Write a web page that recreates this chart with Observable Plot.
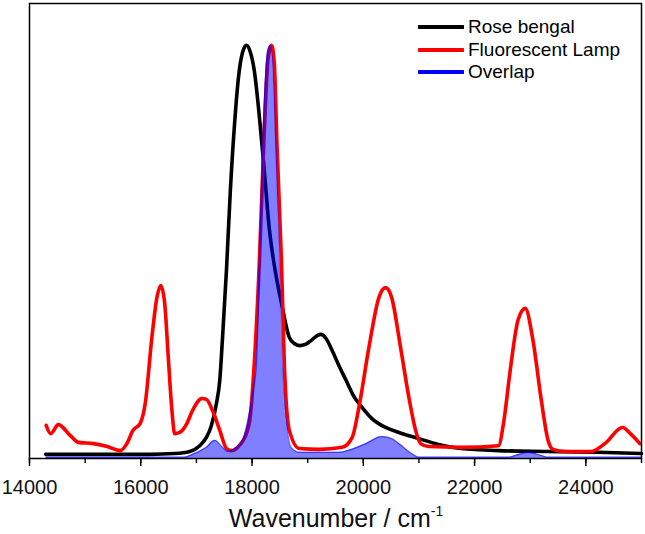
<!DOCTYPE html>
<html>
<head>
<meta charset="utf-8">
<script src="https://cdn.jsdelivr.net/npm/d3@7"></script>
<script src="https://cdn.jsdelivr.net/npm/@observablehq/plot@0.6"></script>
<style>
  html, body { margin: 0; padding: 0; background: #fff; }
  #wrap { position: relative; width: 645px; height: 534px; font-family: "Liberation Sans", Arial, sans-serif; }
  #legend { position: absolute; left: 418px; top: 16px; font-size: 19px; color: #000; }
  #legend .row { display: flex; align-items: center; height: 22.5px; }
  #legend svg { margin-right: 4px; }
  #xtitle { position: absolute; left: 0; width: 672px; top: 504px; text-align: center; font-size: 25px; color: #111; }
  #xtitle sup { font-size: 14px; vertical-align: 11px; line-height: 0; }
</style>
</head>
<body>
<div id="wrap">
  <div id="chart"></div>
  <div id="legend"></div>
  <div id="xtitle">Wavenumber / cm<sup>-1</sup></div>
</div>
<script>
// ---- Data (normalized intensity vs wavenumber, cm^-1) ----
const seriesNames = ["Rose bengal", "Fluorescent Lamp", "Overlap"];
const seriesColors = ["#000000", "#ff0000", "#0000ff"];

const wnRose = [14290,15270,16160,16610,16880,17060,17180,17270,17360,17420,17470,17540,17610,17690,17760,17830,17900,17970,18040,18130,18220,18310,18400,18530,18670,18760,18850,18960,19060,19170,19240,19330,19440,19560,19690,19830,19980,20150,20400,20640,21000,21350,21760,22430,23320,24210,25000];
const roseBengal = [0.010,0.010,0.010,0.012,0.017,0.031,0.051,0.080,0.133,0.189,0.293,0.455,0.648,0.817,0.926,0.982,0.999,0.982,0.938,0.829,0.696,0.556,0.467,0.375,0.293,0.278,0.273,0.276,0.285,0.297,0.300,0.290,0.261,0.225,0.189,0.150,0.123,0.097,0.075,0.063,0.048,0.034,0.024,0.019,0.017,0.015,0.012];

const wnLamp = [14300,14380,14520,14730,14880,15150,15400,15630,15750,15860,15990,16080,16200,16290,16360,16430,16490,16560,16610,16700,16830,16930,17100,17180,17290,17420,17540,17630,17770,17950,18040,18130,18220,18290,18350,18400,18450,18530,18580,18670,18850,19210,19620,19800,19920,20100,20280,20400,20510,20670,20820,20940,21030,21170,21760,22430,22520,22640,22780,22910,23050,23200,23320,23410,23620,24090,24340,24660,24800,24970];
const lamp = [0.080,0.060,0.082,0.056,0.039,0.036,0.029,0.019,0.036,0.068,0.085,0.133,0.293,0.389,0.418,0.375,0.254,0.116,0.060,0.063,0.085,0.116,0.145,0.143,0.116,0.068,0.024,0.019,0.031,0.085,0.230,0.471,0.793,0.970,0.999,0.955,0.752,0.471,0.230,0.068,0.024,0.022,0.027,0.051,0.123,0.268,0.389,0.413,0.389,0.268,0.147,0.068,0.036,0.029,0.027,0.031,0.085,0.213,0.334,0.363,0.285,0.140,0.044,0.022,0.017,0.017,0.036,0.075,0.060,0.036];

const wnOverlap = [14300,16790,16930,17180,17330,17470,17560,17690,17830,17950,18020,18080,18130,18200,18280,18330,18370,18440,18490,18540,18620,18700,18850,19560,19830,20050,20330,20510,20640,20870,21000,22600,22730,22960,23200,23320,25000];
const overlap = [0.003,0.003,0.010,0.027,0.044,0.027,0.017,0.024,0.044,0.109,0.164,0.230,0.471,0.793,0.986,0.999,0.955,0.713,0.471,0.230,0.085,0.027,0.015,0.015,0.024,0.036,0.053,0.048,0.036,0.012,0.003,0.003,0.007,0.015,0.007,0.003,0.003];

const xMajorTicks = [14000,16000,18000,20000,22000,24000];
const xMinorTicks = [14000,15000,16000,17000,18000,19000,20000,21000,22000,23000,24000,25000];

const roseData = wnRose.map((x, i) => ({x, y: roseBengal[i]}));
const lampData = wnLamp.map((x, i) => ({x, y: lamp[i]}));
const overlapData = wnOverlap.map((x, i) => ({x, y: overlap[i]}));

const chart = Plot.plot({
  width: 645,
  height: 500,
  marginLeft: 29,
  marginRight: 4,
  marginTop: 3,
  marginBottom: 42,
  style: {fontFamily: "'Liberation Sans', Arial, sans-serif", background: "#fff", color: "#111"},
  x: {domain: [14000, 25000], label: null},
  y: {domain: [0, 1.1], axis: null},
  marks: [
    Plot.axisX({ticks: xMinorTicks, tickSize: 5, tickFormat: () => "", stroke: "#000", strokeWidth: 1.4, label: null}),
    Plot.axisX({ticks: xMajorTicks, tickSize: 8, tickPadding: 13, tickFormat: d => String(d), fontSize: 20, stroke: "#000", strokeWidth: 1.4, fill: "#111", label: null}),
    Plot.line(roseData, {x: "x", y: "y", stroke: seriesColors[0], strokeWidth: 3.6, curve: "monotone-x", strokeLinejoin: "round"}),
    Plot.line(lampData, {x: "x", y: "y", stroke: seriesColors[1], strokeWidth: 3.6, curve: "monotone-x", strokeLinejoin: "round"}),
    Plot.areaY(overlapData, {x: "x", y: "y", fill: seriesColors[2], fillOpacity: 0.5, curve: "monotone-x"}),
    Plot.line(overlapData, {x: "x", y: "y", stroke: seriesColors[2], strokeWidth: 1.3, strokeOpacity: 0.55, curve: "monotone-x"}),
    Plot.frame({stroke: "#000", strokeWidth: 1.5})
  ]
});
document.getElementById("chart").appendChild(chart);

const legend = document.getElementById("legend");
seriesNames.forEach((name, i) => {
  const row = document.createElement("div");
  row.className = "row";
  row.innerHTML = `<svg width="46" height="8"><line x1="1" y1="4" x2="45" y2="4" stroke="${seriesColors[i]}" stroke-width="4" stroke-linecap="round"/></svg><span>${name}</span>`;
  legend.appendChild(row);
});
</script>
</body>
</html>
